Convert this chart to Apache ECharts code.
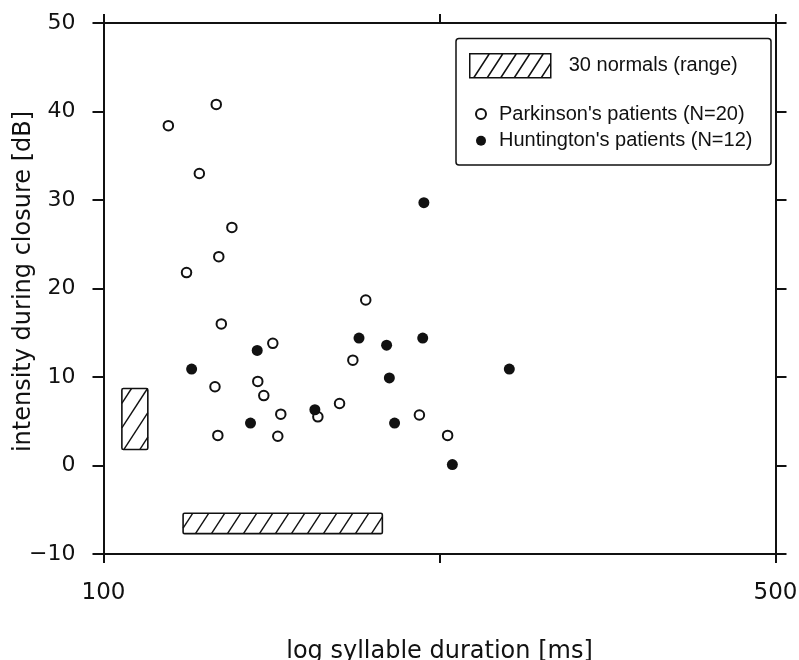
<!DOCTYPE html>
<html>
<head>
<meta charset="utf-8">
<script src="https://cdn.jsdelivr.net/npm/echarts@6/dist/echarts.min.js"></script>
<style>
  html, body { margin: 0; padding: 0; background: #fff; }
  #chart { width: 799px; height: 660px; }
</style>
</head>
<body>
<div id="chart"></div>
<script>
// Syllable duration (ms) and intensity during closure (dB), one entry per speaker
const parkinsonDuration = [116.8, 131.0, 125.8, 136.0, 131.8, 122.0, 187.4, 132.6, 150.0, 130.6,
                           144.7, 146.8, 152.9, 131.5, 151.8, 167.1, 176.0, 181.7, 213.1, 228.0];
const parkinsonIntensity = [38.4, 40.8, 33.0, 26.9, 23.6, 21.8, 18.7, 16.0, 13.8, 8.9,
                            9.5, 7.9, 5.8, 3.4, 3.3, 5.5, 7.0, 11.9, 5.7, 3.4];
const huntingtonDuration = [123.5, 144.5, 142.2, 165.9, 184.4, 197.0, 214.8, 198.3, 200.8, 215.4, 264.3, 230.6];
const huntingtonIntensity = [10.9, 13.0, 4.8, 6.3, 14.4, 13.6, 14.4, 9.9, 4.8, 29.7, 10.9, 0.1];

// Ranges covered by the 30 normal speakers
const normalDurationRange = [121, 195];
const normalIntensityRange = [1.8, 8.7];

// Axis extents and tick labels
const durationTickLabels = [100, 500];
const intensityTicks = [-10, 0, 10, 20, 30, 40, 50];

const seriesNames = ['30 normals (range)', "Parkinson's patients (N=20)", "Huntington's patients (N=12)"];

const INK = '#111';
const NUM_FONT = 'DejaVu Sans';
const TEXT_FONT = 'Liberation Sans';

// Placement of the two range bars: the duration bar sits below the data,
// the intensity bar sits just right of the left axis.
const DURATION_BAR_Y = [-7.7, -5.4];
const INTENSITY_BAR_X = [104.5, 111.2];

// One extra tick half-way (geometrically) between the two labelled durations
const logStep = Math.ceil(Math.log10(durationTickLabels[1] / durationTickLabels[0]) / 2 * 1e7) / 1e7;

function hatchedBox(x0, y0, x1, y1) {
  const children = [{
    type: 'rect',
    shape: { x: x0, y: y0, width: x1 - x0, height: y1 - y0, r: 1.5 },
    style: { fill: '#fff', stroke: INK, lineWidth: 1.6 }
  }];
  const s = 0.65, step = 16;
  const cMin = x0 + s * y0, cMax = x1 + s * y1;
  for (let c = cMin + step * 0.6; c < cMax; c += step) {
    const ya = Math.max(y0, (c - x1) / s);
    const yb = Math.min(y1, (c - x0) / s);
    if (yb - ya < 1) continue;
    children.push({
      type: 'line',
      shape: { x1: c - s * ya, y1: ya, x2: c - s * yb, y2: yb },
      style: { stroke: INK, lineWidth: 1.4 }
    });
  }
  return { type: 'group', children };
}

// Legend icon for the hatched range bar (81 x 24 box with slanted strokes)
function hatchIconPath() {
  let d = 'M0,0H81V24H0Z';
  for (let x = 4; x < 81 + 16; x += 13.5) {
    const xa = x, ya = 24, xb = x + 15.6, yb = 0;
    // clip each stroke to the box
    let sx = xa, sy = ya, ex = xb, ey = yb;
    if (ex > 81) { ey = ya - (81 - xa) / (xb - xa) * 24; ex = 81; }
    if (sx > 81) continue;
    d += 'M' + sx.toFixed(1) + ',' + sy.toFixed(1) + 'L' + ex.toFixed(1) + ',' + ey.toFixed(1);
  }
  return 'path://' + d;
}

const durationAxisBase = {
  type: 'log',
  logBase: 10,
  min: durationTickLabels[0],
  max: durationTickLabels[durationTickLabels.length - 1],
  interval: logStep,
  axisLine: { show: true, onZero: false, lineStyle: { color: INK, width: 2 } },
  axisTick: { show: true, length: 9, lineStyle: { color: INK, width: 2 } },
  splitLine: { show: false },
  minorTick: { show: false }
};

const intensityAxisBase = {
  type: 'value',
  min: intensityTicks[0],
  max: intensityTicks[intensityTicks.length - 1],
  interval: intensityTicks[1] - intensityTicks[0],
  axisLine: { show: true, onZero: false, lineStyle: { color: INK, width: 2 } },
  axisTick: { show: true, length: 11, lineStyle: { color: INK, width: 2 } },
  splitLine: { show: false }
};

const chart = echarts.init(document.getElementById('chart'), null, { renderer: 'canvas' });

chart.setOption({
  animation: false,
  backgroundColor: '#fff',
  grid: { left: 103.5, right: 23.5, top: 23, bottom: 106, containLabel: false, outerBoundsMode: 'none' },
  xAxis: [
    Object.assign({}, durationAxisBase, {
      position: 'bottom',
      axisLabel: {
        show: true, margin: 28, fontSize: 23, fontFamily: NUM_FONT, color: INK,
        showMinLabel: true, showMaxLabel: true,
        formatter: v => durationTickLabels.some(t => Math.abs(t - v) < 0.5) ? String(Math.round(v)) : ''
      },
      name: 'log syllable duration [ms]',
      nameLocation: 'middle',
      nameGap: 86,
      nameMoveOverlap: false,
      nameTextStyle: { fontSize: 24, fontFamily: NUM_FONT, color: INK }
    }),
    Object.assign({}, durationAxisBase, { position: 'top', axisLabel: { show: false } })
  ],
  yAxis: [
    Object.assign({}, intensityAxisBase, {
      position: 'left',
      axisLabel: {
        show: true, margin: 28, fontSize: 22, fontFamily: NUM_FONT, color: INK,
        formatter: v => (v < 0 ? '\u2212' + Math.abs(v) : String(v))
      },
      name: 'intensity during closure [dB]',
      nameLocation: 'middle',
      nameGap: 68,
      nameMoveOverlap: false,
      nameTextStyle: { fontSize: 24, fontFamily: NUM_FONT, color: INK, padding: [0, 0, 0, 14] }
    }),
    Object.assign({}, intensityAxisBase, { position: 'right', axisLabel: { show: false } })
  ],
  graphic: [{
    type: 'rect',
    z: 1,
    shape: { x: 456, y: 38.5, width: 315, height: 126.5, r: 3 },
    style: { fill: '#fff', stroke: INK, lineWidth: 1.5 }
  }],
  legend: [
    {
      z: 5,
      left: 469, top: 53, padding: 0,
      itemWidth: 81, itemHeight: 24,
      selectedMode: false,
      data: [{
        name: seriesNames[0],
        icon: hatchIconPath(),
        itemStyle: { color: 'rgba(0,0,0,0)', borderColor: INK, borderWidth: 1.5 }
      }],
      textStyle: { fontSize: 20, fontFamily: TEXT_FONT, color: INK, padding: [8, 0, 0, 13] }
    },
    {
      z: 5,
      left: 475, top: 104, padding: 0,
      orient: 'vertical',
      itemWidth: 10, itemHeight: 10, itemGap: 6.7,
      selectedMode: false,
      data: [seriesNames[1], seriesNames[2]],
      textStyle: { fontSize: 20, fontFamily: TEXT_FONT, color: INK, padding: [0, 0, 0, 8] }
    }
  ],
  series: [
    {
      name: seriesNames[0],
      type: 'custom',
      xAxisIndex: 0, yAxisIndex: 0,
      data: [
        [normalDurationRange[0], normalDurationRange[1], 0],
        [normalIntensityRange[0], normalIntensityRange[1], 1]
      ],
      renderItem: function (params, api) {
        const lo = api.value(0), hi = api.value(1);
        let a, b;
        if (api.value(2) === 0) {
          a = api.coord([lo, DURATION_BAR_Y[1]]);
          b = api.coord([hi, DURATION_BAR_Y[0]]);
        } else {
          a = api.coord([INTENSITY_BAR_X[0], hi]);
          b = api.coord([INTENSITY_BAR_X[1], lo]);
        }
        return hatchedBox(a[0], a[1], b[0], b[1]);
      }
    },
    {
      name: seriesNames[1],
      type: 'scatter',
      xAxisIndex: 0, yAxisIndex: 0,
      symbol: 'circle',
      symbolSize: 9.5,
      itemStyle: { color: '#fff', borderColor: INK, borderWidth: 2, opacity: 1 },
      data: parkinsonDuration.map((d, i) => [d, parkinsonIntensity[i]])
    },
    {
      name: seriesNames[2],
      type: 'scatter',
      xAxisIndex: 0, yAxisIndex: 0,
      symbol: 'circle',
      symbolSize: 11,
      itemStyle: { color: INK, borderColor: INK, borderWidth: 0, opacity: 1 },
      data: huntingtonDuration.map((d, i) => [d, huntingtonIntensity[i]])
    }
  ]
});
</script>
</body>
</html>
